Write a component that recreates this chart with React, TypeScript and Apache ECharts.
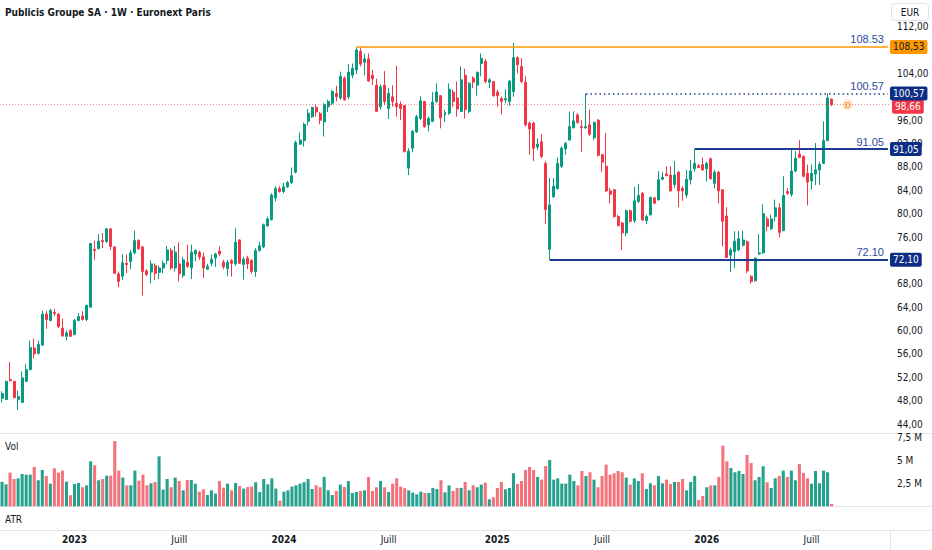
import React, { useEffect, useRef } from "react";
import * as echarts from "echarts";

// ---------- data (weekly bars) ----------
const START_DATE_UTC = Date.UTC(2022, 7, 29); // first weekly bar (Monday)
const EXTRA_SLOTS = 14; // empty weeks right of the last bar

const open = [
  48.4, 48.2, 51.6, 51.3, 48.2, 47.7, 51.3, 53.3, 57.0, 56.1,
  57.5, 62.8, 61.7, 63.1, 62.8, 60.4, 59.0, 60.0, 59.3, 61.7,
  62.5, 61.9, 64.0, 73.9, 74.0, 75.4, 75.2, 77.4, 74.3, 69.7,
  69.3, 71.5, 71.8, 73.3, 75.4, 74.3, 70.2, 70.0, 71.1, 69.95,
  70.7, 72.0, 73.7, 70.7, 71.4, 69.4, 71.7, 70.7, 73.1, 73.4,
  72.6, 70.5, 71.5, 72.4, 73.6, 71.7, 70.6, 72.0, 71.4, 75.5,
  71.3, 72.4, 72.0, 70.1, 73.7, 74.3, 77.9, 79.0, 82.7, 84.3,
  83.8, 84.6, 85.3, 87.1, 91.9, 92.5, 95.8, 96.6, 98.2, 97.1,
  95.7, 98.3, 98.9, 100.6, 99.8, 103.2, 100.0, 103.7, 104.6, 107.8,
  105.9, 106.5, 103.7, 102.0, 98.3, 102.0, 98.0, 100.0, 98.9, 98.7,
  98.5, 87.8, 91.2, 94.0, 96.3, 99.2, 95.2, 95.8, 99.2, 100.2,
  96.9, 97.2, 100.8, 99.8, 97.5, 103.7, 97.5, 103.2, 102.0, 105.7,
  106.1, 102.5, 102.6, 100.8, 99.7, 99.5, 99.2, 100.9, 106.7, 105.2,
  102.5, 95.5, 95.5, 91.4, 92.3, 88.6, 73.9, 82.9, 84.3, 88.1,
  91.1, 92.6, 94.7, 96.9, 94.9, 94.7, 95.2, 93.0, 96.0, 90.1,
  88.1, 83.9, 84.1, 79.5, 78.4, 76.7, 80.5, 78.8, 82.1, 83.5,
  78.8, 79.8, 82.7, 82.4, 85.9, 86.8, 86.6, 85.0, 87.1, 84.3,
  83.2, 85.8, 87.7, 88.2, 88.4, 87.7, 89.4, 85.2, 87.1, 84.1,
  79.6, 72.9, 73.5, 73.8, 74.6, 75.2, 69.3, 68.5, 73.1, 73.3,
  79.1, 77.4, 79.5, 81.0, 77.1, 83.8, 83.3, 87.3, 90.2, 89.8,
  86.9, 85.6, 86.8, 87.5, 88.6, 92.5, 99.6,
];

const high = [
  49.6, 51.4, 54.6, 51.4, 49.7, 53.0, 54.3, 58.3, 58.6, 58.3,
  63.4, 63.3, 63.7, 63.7, 63.0, 62.0, 60.0, 60.2, 62.0, 63.0,
  63.3, 64.4, 75.0, 75.4, 76.5, 76.7, 77.5, 77.5, 74.4, 70.1,
  73.1, 73.0, 73.8, 77.1, 75.6, 74.5, 70.5, 72.0, 71.5, 71.1,
  72.0, 74.5, 74.1, 74.5, 75.1, 72.6, 74.7, 74.7, 73.9, 73.7,
  73.3, 71.4, 73.0, 73.3, 74.4, 72.1, 72.1, 72.2, 77.5, 75.6,
  72.6, 72.8, 72.2, 74.1, 75.2, 78.3, 79.5, 83.5, 84.7, 84.7,
  85.3, 85.6, 87.9, 92.5, 93.9, 95.6, 97.9, 98.3, 98.7, 97.4,
  98.9, 99.5, 101.2, 101.9, 104.3, 103.5, 105.6, 105.7, 108.53, 108.4,
  107.4, 107.4, 104.6, 103.1, 102.1, 104.4, 101.5, 102.0, 105.3, 99.2,
  98.6, 91.2, 94.3, 96.9, 100.1, 99.3, 96.6, 100.8, 102.3, 100.3,
  97.8, 102.3, 101.2, 102.6, 105.2, 104.8, 102.5, 103.5, 104.3, 107.4,
  106.5, 103.2, 102.7, 101.2, 100.0, 101.3, 102.9, 109.2, 106.9, 106.6,
  103.5, 95.8, 95.7, 92.9, 93.6, 89.0, 86.1, 86.1, 89.6, 91.5,
  92.3, 97.5, 97.5, 97.2, 96.0, 100.57, 97.8, 95.8, 96.2, 90.2,
  93.8, 84.4, 84.2, 79.8, 78.6, 80.7, 80.7, 84.6, 85.1, 83.7,
  79.8, 82.9, 82.9, 87.3, 87.1, 88.1, 88.1, 89.0, 87.3, 84.7,
  87.5, 89.2, 91.05, 88.5, 89.6, 88.9, 89.6, 87.5, 87.3, 84.2,
  81.1, 74.2, 77.0, 77.0, 77.1, 75.4, 69.4, 72.5, 76.5, 81.6,
  79.5, 79.8, 82.4, 81.8, 86.4, 84.4, 90.9, 90.7, 92.6, 89.95,
  88.4, 88.4, 92.1, 88.9, 95.8, 100.57, 99.7,
];

const low = [
  47.7, 48.1, 51.3, 48.4, 46.4, 47.6, 51.2, 53.2, 55.2, 55.9,
  57.4, 60.3, 61.6, 62.5, 60.4, 58.9, 58.3, 58.9, 59.2, 61.6,
  61.7, 61.6, 63.9, 72.1, 73.9, 74.1, 75.0, 73.8, 69.7, 67.4,
  68.7, 69.8, 70.5, 73.0, 73.8, 66.0, 69.3, 68.1, 68.6, 68.8,
  69.8, 71.3, 70.4, 70.1, 68.4, 69.0, 70.7, 68.8, 71.8, 72.1,
  69.0, 70.4, 71.0, 70.9, 72.7, 70.5, 69.3, 69.2, 71.1, 71.4,
  68.7, 70.5, 69.7, 69.2, 73.5, 74.1, 77.8, 78.8, 82.1, 83.6,
  83.5, 84.4, 85.1, 86.9, 91.8, 91.5, 95.1, 96.4, 96.6, 95.3,
  93.2, 97.4, 98.6, 99.2, 99.5, 99.3, 99.6, 103.2, 103.9, 105.2,
  103.7, 102.6, 102.0, 97.4, 97.8, 98.6, 96.2, 98.3, 96.6, 96.0,
  90.5, 86.6, 90.5, 93.8, 96.0, 94.7, 94.1, 95.7, 98.9, 94.6,
  95.7, 96.9, 98.3, 96.6, 97.4, 96.3, 97.2, 101.5, 100.2, 103.5,
  102.3, 101.5, 100.0, 98.3, 97.0, 98.9, 98.5, 100.0, 104.0, 102.3,
  94.9, 90.1, 89.0, 90.9, 89.5, 78.2, 72.1, 82.7, 84.1, 87.8,
  90.1, 92.5, 94.6, 95.4, 90.6, 94.5, 93.3, 92.6, 89.8, 87.1,
  83.7, 81.8, 79.3, 77.8, 73.8, 76.1, 78.5, 78.4, 81.8, 78.8,
  78.2, 79.7, 81.6, 82.2, 85.8, 86.4, 83.8, 84.4, 81.1, 82.2,
  82.7, 85.0, 87.2, 87.8, 87.3, 85.5, 85.8, 84.3, 81.8, 74.4,
  72.4, 70.0, 70.7, 73.6, 74.4, 69.8, 68.0, 68.4, 72.9, 73.1,
  77.0, 77.2, 78.7, 75.9, 77.0, 83.2, 82.9, 87.1, 89.5, 86.2,
  81.4, 84.1, 84.9, 84.9, 88.5, 92.4, 98.4,
];

const close = [
  49.2, 51.3, 51.4, 48.5, 48.7, 51.9, 53.3, 57.1, 56.0, 57.6,
  62.8, 61.9, 63.4, 62.9, 60.7, 59.1, 59.6, 59.0, 61.7, 62.4,
  61.9, 64.3, 74.9, 73.7, 75.3, 75.2, 77.4, 74.4, 69.8, 68.4,
  71.6, 71.3, 73.3, 75.4, 74.0, 70.1, 69.6, 71.4, 69.8, 70.7,
  71.5, 73.8, 70.7, 73.4, 69.7, 72.1, 71.0, 73.4, 73.7, 72.6,
  70.7, 71.0, 72.2, 73.1, 73.1, 70.9, 71.7, 71.5, 75.1, 71.5,
  72.2, 71.4, 70.1, 73.7, 74.5, 78.1, 79.1, 83.2, 84.3, 83.8,
  84.6, 85.3, 86.5, 92.2, 92.6, 95.3, 97.2, 98.2, 97.4, 96.0,
  98.7, 99.2, 100.9, 100.0, 103.5, 99.5, 104.2, 104.9, 108.0, 105.6,
  106.5, 102.7, 103.1, 97.5, 101.7, 99.2, 100.6, 99.2, 98.3, 98.0,
  90.6, 90.7, 94.1, 96.6, 99.3, 94.9, 96.3, 99.1, 100.8, 96.4,
  97.3, 101.3, 99.2, 97.9, 102.9, 97.8, 102.3, 102.5, 104.2, 106.6,
  102.6, 102.9, 100.2, 100.2, 99.2, 99.7, 102.7, 106.7, 105.5, 102.6,
  95.2, 94.5, 91.2, 91.9, 89.8, 80.7, 81.5, 84.7, 88.6, 91.2,
  92.0, 94.9, 95.9, 95.6, 94.7, 94.9, 93.6, 95.6, 90.0, 88.8,
  83.9, 83.3, 79.5, 78.0, 76.7, 80.5, 78.7, 82.2, 83.1, 78.9,
  79.5, 82.8, 81.8, 85.8, 86.2, 86.5, 83.9, 86.6, 83.9, 83.9,
  85.9, 87.3, 88.6, 87.9, 87.5, 88.6, 86.0, 87.1, 83.9, 78.7,
  72.5, 73.8, 75.3, 75.7, 75.5, 70.2, 68.4, 72.4, 73.3, 80.0,
  77.8, 79.1, 81.0, 76.8, 83.1, 83.5, 87.3, 89.5, 89.6, 86.4,
  85.4, 86.9, 87.5, 88.4, 92.5, 99.8, 98.66,
];

// weekly volume, millions of shares
const volume = [
  2.68, 2.39, 3.66, 2.97, 3.04, 3.51, 3.44, 3.44, 4.28, 2.83,
  3.95, 3.30, 2.46, 4.13, 3.66, 3.88, 2.68, 1.20, 2.43, 2.54,
  2.07, 2.28, 4.89, 4.46, 2.83, 2.97, 3.33, 3.33, 7.10, 3.88,
  3.12, 2.28, 2.28, 3.88, 2.79, 3.44, 2.28, 2.50, 2.64, 5.43,
  1.81, 2.97, 2.07, 3.12, 2.75, 1.74, 2.86, 2.86, 2.46, 1.59,
  1.85, 1.23, 1.74, 1.38, 2.75, 2.03, 2.46, 1.74, 2.54, 2.21,
  1.92, 2.10, 2.14, 2.61, 1.56, 2.97, 2.39, 3.04, 1.92, 0.62,
  1.59, 1.74, 2.14, 2.28, 2.46, 2.61, 2.97, 1.88, 2.28, 2.07,
  3.19, 1.74, 1.23, 1.67, 2.36, 2.10, 2.75, 1.45, 1.56, 1.67,
  1.74, 3.19, 1.67, 2.07, 2.75, 2.07, 1.56, 2.46, 3.04, 2.14,
  1.96, 1.74, 1.49, 1.30, 1.59, 1.45, 1.45, 2.00, 1.88, 2.83,
  1.52, 2.28, 1.67, 2.00, 2.00, 2.64, 1.74, 2.28, 2.07, 2.36,
  2.57, 0.76, 0.98, 2.00, 2.64, 1.85, 2.00, 3.59, 2.43, 2.75,
  3.95, 4.28, 3.95, 3.19, 2.90, 4.38, 5.04, 2.90, 3.04, 2.46,
  2.46, 3.44, 2.75, 2.28, 3.84, 3.30, 3.70, 2.90, 2.07, 3.30,
  4.53, 3.44, 3.59, 3.84, 3.70, 3.12, 2.36, 3.04, 2.75, 3.59,
  1.88, 2.50, 2.28, 3.30, 2.50, 2.90, 2.43, 2.64, 2.64, 2.97,
  1.74, 2.64, 3.30, 0.69, 1.12, 2.07, 2.28, 2.28, 3.19, 6.59,
  4.89, 4.17, 3.70, 3.84, 3.51, 5.58, 4.71, 2.83, 3.19, 4.35,
  2.61, 2.00, 3.04, 3.30, 3.88, 3.19, 3.88, 2.83, 4.60, 3.62,
  3.04, 2.46, 3.84, 2.50, 3.88, 3.70, 0.25,
];

// horizontal levels drawn by the author: value, first bar index, style
const levels = [
  { value: 108.53, start: 88, kind: "orange" },
  { value: 100.57, start: 145, kind: "dotted" },
  { value: 91.05, start: 172, kind: "solid" },
  { value: 72.1, start: 136, kind: "solid" },
];
const lastPrice = 98.66;
const dividendMarker = { index: 210, value: 98.66, text: "D" };

const priceAxis = { min: 44, max: 112, interval: 4 };
const volumeAxis = { min: 0, max: 7.5, interval: 2.5 };

const TITLE = "Publicis Groupe SA · 1W · Euronext Paris";
const MONTH_LABELS: Record<number, string> = { 6: "Juill" };

// ---------- style ----------
const TEXT = "#131722";
const NARROW = "'Liberation Sans Narrow', 'DejaVu Sans Condensed', 'Liberation Sans', sans-serif";
const UP = "#089981";
const DOWN = "#f23645";
const VOL_UP = "#26a18e";
const VOL_DOWN = "#f4727a";
const ORANGE = "#ff9800";
const NAVY = "#1c3d93";
const NAVY_TAG = "#0e2d85";
const LABEL_BLUE = "#2c4c9f";
const SEP = "#e0e3eb";

const W = 932;
const H = 550;
const PLOT_RIGHT = 890;
const PRICE_TOP = 26.7;
const PRICE_HEIGHT = 397.3;
const RED_TAG_NUDGE_PX = 2; // the last-price tag sits just under the 100,57 tag

export default function App() {
  const ref = useRef<HTMLDivElement>(null);

  useEffect(() => {
    document.body.style.margin = "0";
    if (!ref.current) return;
    const chart = echarts.init(ref.current, undefined, { renderer: "svg" });

    const N = open.length;
    const TOTAL = N + EXTRA_SLOTS;
    const lastCat = TOTAL - 1;
    const dates = Array.from({ length: TOTAL }, (_, i) => new Date(START_DATE_UTC + i * 7 * 86400000));
    const categories = dates.map((d) => d.toISOString().slice(0, 10));

    const tickMap = new Map<number, { text: string; year: boolean }>();
    for (let i = 1; i < TOTAL; i++) {
      const m = dates[i].getUTCMonth();
      const pm = dates[i - 1].getUTCMonth();
      if (m !== pm) {
        if (m === 0) tickMap.set(i, { text: String(dates[i].getUTCFullYear()), year: true });
        else if (MONTH_LABELS[m]) tickMap.set(i, { text: MONTH_LABELS[m], year: false });
      }
    }

    const candles = open.map((o, i) => [o, close[i], low[i], high[i]]);
    const volData = volume.map((v, i) => ({
      value: v,
      itemStyle: { color: close[i] >= open[i] ? VOL_UP : VOL_DOWN },
    }));

    const fmtComma = (v: number) => v.toFixed(2).replace(".", ",");
    const tagValues = [lastPrice, ...levels.map((l) => l.value)];
    const unitsPerPx = (priceAxis.max - priceAxis.min) / PRICE_HEIGHT;

    const lineStyleFor = (kind: string) => {
      if (kind === "orange") return { color: ORANGE, width: 1.5, type: "solid" };
      if (kind === "dotted") return { color: NAVY, width: 1.5, type: [1.5, 3] };
      return { color: NAVY, width: 2, type: "solid" };
    };

    const tagLabel = (text: string, bg: string, fg: string) => ({
      show: true,
      position: "end",
      distance: 2,
      formatter: text,
      backgroundColor: bg,
      color: fg,
      padding: [2, 3, 1, 3],
      fontSize: 10,
      lineHeight: 11,
      fontFamily: NARROW,
      borderRadius: 2,
    });
    const hidden = { color: "rgba(0,0,0,0)", width: 0 };

    const markData: any[] = [];
    // current price dotted line across the pane
    markData.push({
      yAxis: lastPrice,
      lineStyle: { color: "rgba(242,54,69,0.6)", width: 1, type: [1, 2] },
      label: { show: false },
    });
    // its tag, nudged a little below so it does not overlap the 100,57 tag
    markData.push({
      yAxis: lastPrice - RED_TAG_NUDGE_PX * unitsPerPx,
      lineStyle: hidden,
      label: tagLabel(fmtComma(lastPrice), DOWN, "#ffffff"),
    });
    levels.forEach((l) => {
      markData.push([
        {
          coord: [l.start, l.value],
          lineStyle: lineStyleFor(l.kind),
          label: {
            show: true,
            position: "insideEndTop",
            distance: [4, 2],
            formatter: l.value.toFixed(2),
            color: LABEL_BLUE,
            fontSize: 11,
            fontFamily: "'Liberation Sans', sans-serif",
          },
        },
        { coord: [lastCat, l.value] },
      ]);
    });
    levels.forEach((l) => {
      markData.push([
        {
          coord: [l.start, l.value],
          lineStyle: hidden,
          label: tagLabel(
            fmtComma(l.value),
            l.kind === "orange" ? ORANGE : NAVY_TAG,
            l.kind === "orange" ? TEXT : "#ffffff"
          ),
        },
        { coord: [lastCat, l.value] },
      ]);
    });

    const option: any = {
      animation: false,
      backgroundColor: "#ffffff",
      grid: [
        { left: 0, right: W - PLOT_RIGHT, top: PRICE_TOP, height: PRICE_HEIGHT },
        { left: 0, right: W - PLOT_RIGHT, top: 437.3, height: 69 },
      ],
      xAxis: [
        {
          type: "category",
          gridIndex: 0,
          data: categories,
          boundaryGap: true,
          axisLine: { show: false },
          axisTick: { show: false },
          axisLabel: { show: false },
          splitLine: { show: false },
        },
        {
          type: "category",
          gridIndex: 1,
          data: categories,
          boundaryGap: true,
          axisLine: { show: false },
          axisTick: { show: false },
          splitLine: { show: false },
          axisLabel: {
            show: true,
            margin: 28,
            interval: (index: number) => tickMap.has(index),
            formatter: (_v: string, index: number) => {
              const t = tickMap.get(index);
              if (!t) return "";
              return t.year ? `{yr|${t.text}}` : `{mo|${t.text}}`;
            },
            rich: {
              yr: { fontWeight: "bold", fontSize: 10, color: TEXT, fontFamily: NARROW },
              mo: { fontSize: 10, color: TEXT, fontFamily: NARROW },
            },
          },
        },
      ],
      yAxis: [
        {
          type: "value",
          gridIndex: 0,
          position: "right",
          min: priceAxis.min,
          max: priceAxis.max,
          interval: priceAxis.interval,
          axisLine: { show: false },
          axisTick: { show: false },
          splitLine: { show: false },
          axisLabel: {
            margin: 7,
            color: TEXT,
            fontSize: 10,
            fontFamily: NARROW,
            // ticks hidden under a price tag are not drawn
            formatter: (v: number) => (tagValues.some((t) => Math.abs(t - v) < 0.7) ? "" : fmtComma(v)),
          },
        },
        {
          type: "value",
          gridIndex: 1,
          position: "right",
          min: volumeAxis.min,
          max: volumeAxis.max,
          interval: volumeAxis.interval,
          axisLine: { show: false },
          axisTick: { show: false },
          splitLine: { show: false },
          axisLabel: {
            margin: 7,
            color: TEXT,
            fontSize: 10,
            fontFamily: NARROW,
            formatter: (v: number) => (v === 0 ? "" : String(v).replace(".", ",") + " M"),
          },
        },
      ],
      series: [
        {
          type: "candlestick",
          name: "Publicis",
          xAxisIndex: 0,
          yAxisIndex: 0,
          data: candles,
          barWidth: "62%",
          clip: false,
          itemStyle: {
            color: UP,
            color0: DOWN,
            borderColor: UP,
            borderColor0: DOWN,
            borderWidth: 1,
          },
          markLine: {
            silent: true,
            symbol: ["none", "none"],
            animation: false,
            emphasis: { disabled: true },
            data: markData,
          },
        },
        {
          type: "bar",
          name: "Vol",
          xAxisIndex: 1,
          yAxisIndex: 1,
          data: volData,
          barWidth: "76%",
        },
        {
          type: "scatter",
          name: "dividend",
          xAxisIndex: 0,
          yAxisIndex: 0,
          data: [[dividendMarker.index, dividendMarker.value]],
          symbol: "circle",
          symbolSize: 11,
          itemStyle: { color: "#fde3c6" },
          label: {
            show: true,
            position: "inside",
            formatter: dividendMarker.text,
            color: "#f7931a",
            fontSize: 8.5,
            fontWeight: "bold",
            fontFamily: "'Liberation Sans', sans-serif",
          },
        },
      ],
      graphic: [
        { type: "line", shape: { x1: 0, y1: 433.5, x2: W, y2: 433.5 }, style: { stroke: SEP, lineWidth: 1 }, silent: true },
        { type: "line", shape: { x1: 0, y1: 506.5, x2: W, y2: 506.5 }, style: { stroke: SEP, lineWidth: 1 }, silent: true },
        { type: "line", shape: { x1: 0, y1: 530.5, x2: W, y2: 530.5 }, style: { stroke: SEP, lineWidth: 1 }, silent: true },
        { type: "line", shape: { x1: PLOT_RIGHT + 0.5, y1: 530.5, x2: PLOT_RIGHT + 0.5, y2: H }, style: { stroke: SEP, lineWidth: 1 }, silent: true },
        {
          type: "text",
          x: 5,
          y: 12,
          style: { text: TITLE, fill: TEXT, fontSize: 10, fontWeight: "bold", fontFamily: NARROW, verticalAlign: "middle" },
          silent: true,
        },
        {
          type: "text",
          x: 5,
          y: 446,
          style: { text: "Vol", fill: TEXT, fontSize: 10, fontFamily: NARROW, verticalAlign: "middle" },
          silent: true,
        },
        {
          type: "text",
          x: 5,
          y: 519,
          style: { text: "ATR", fill: TEXT, fontSize: 10, fontFamily: NARROW, verticalAlign: "middle" },
          silent: true,
        },
        {
          type: "rect",
          shape: { x: 891.5, y: 3.5, width: 37, height: 17, r: 3 },
          style: { fill: "#ffffff", stroke: SEP, lineWidth: 1 },
          silent: true,
        },
        {
          type: "text",
          x: 910,
          y: 12,
          style: { text: "EUR", fill: TEXT, fontSize: 10, fontFamily: NARROW, align: "center", verticalAlign: "middle" },
          silent: true,
        },
      ],
    };

    chart.setOption(option);
    return () => chart.dispose();
  }, []);

  return <div ref={ref} style={{ width: W, height: H }} />;
}
